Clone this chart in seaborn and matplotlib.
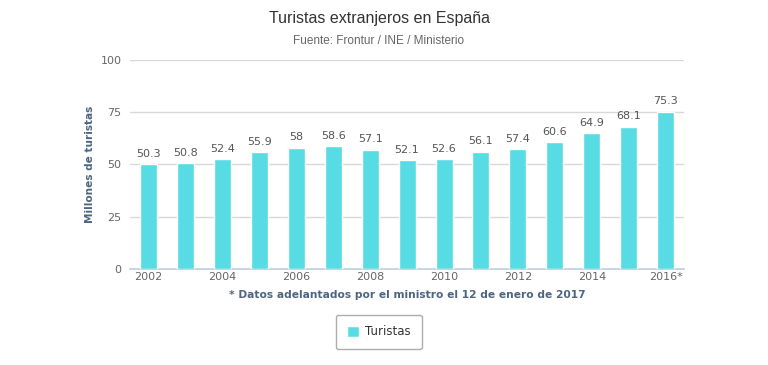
import matplotlib
matplotlib.use("Agg")
import matplotlib.pyplot as plt
import seaborn as sns
import pandas as pd
import numpy as np

years = ["2002", "2003", "2004", "2005", "2006", "2007", "2008", "2009",
         "2010", "2011", "2012", "2013", "2014", "2015", "2016*"]
turistas = [50.3, 50.8, 52.4, 55.9, 58, 58.6, 57.1, 52.1, 52.6, 56.1, 57.4,
            60.6, 64.9, 68.1, 75.3]
value_labels = ["50.3", "50.8", "52.4", "55.9", "58", "58.6", "57.1", "52.1",
                "52.6", "56.1", "57.4", "60.6", "64.9", "68.1", "75.3"]
yticks = [0, 25, 50, 75, 100]

df = pd.DataFrame({"year": years, "Turistas": turistas})

sns.set_theme(style="white")
plt.rcParams['font.family'] = ['DejaVu Sans']

color = "#58DCE4"
fig = plt.figure(figsize=(7.68, 3.65), dpi=100)
ax = fig.add_axes([0.169, 0.263, 0.722, 0.573])

sns.barplot(data=df, x="year", y="Turistas", color=color, width=0.46,
            saturation=1, ax=ax, label="Turistas", zorder=3)

ax.set_ylim(0, 100)
ax.set_xlim(-0.5, len(years) - 0.5)
ax.set_yticks(yticks)
ax.set_yticklabels([str(t) for t in yticks], color="#666666", fontsize=8)
ax.yaxis.grid(True, color="#d8d8d8", linewidth=1, zorder=0)
ax.tick_params(axis="y", length=0, pad=6)

idx = list(range(0, len(years), 2))
ax.set_xticks(idx)
ax.set_xticklabels([years[i] for i in idx], color="#666666", fontsize=8)
ax.tick_params(axis="x", which="major", length=0, pad=2)
ax.set_xticks(np.arange(-0.5, len(years), 1), minor=True)
ax.tick_params(axis="x", which="minor", length=5, color="#c0d0e0", width=1)

for s in ["top", "right", "left"]:
    ax.spines[s].set_visible(False)
ax.spines["bottom"].set_color("#c0d0e0")

for i, (v, lab) in enumerate(zip(turistas, value_labels)):
    ax.text(i, v + 2.5, lab, ha="center", va="bottom", fontsize=8, color="#555555")

ax.set_ylabel("Millones de turistas", fontsize=7.6, fontweight="bold", color="#4d6580", labelpad=4)
ax.set_xlabel("* Datos adelantados por el ministro el 12 de enero de 2017", fontsize=7.7,
              fontweight="bold", color="#4d6580", labelpad=6)

fig.text(0.4935, 0.95, "Turistas extranjeros en España", ha="center", va="center",
         fontsize=11.5, color="#333333", family="Liberation Sans")
fig.text(0.4935, 0.888, "Fuente: Frontur / INE / Ministerio", ha="center", va="center",
         fontsize=8.5, color="#666666", family="Liberation Sans")

leg = ax.legend(loc="center", bbox_to_anchor=(0.449, -0.30), frameon=True, fontsize=8.5,
                handlelength=1.1, handleheight=1.1, borderpad=0.9, fancybox=True,
                handletextpad=0.5)
leg.get_frame().set_edgecolor("#999999")
leg.get_frame().set_linewidth(1)
for t in leg.get_texts():
    t.set_color("#333333")

fig.savefig("out.png", dpi=100)
